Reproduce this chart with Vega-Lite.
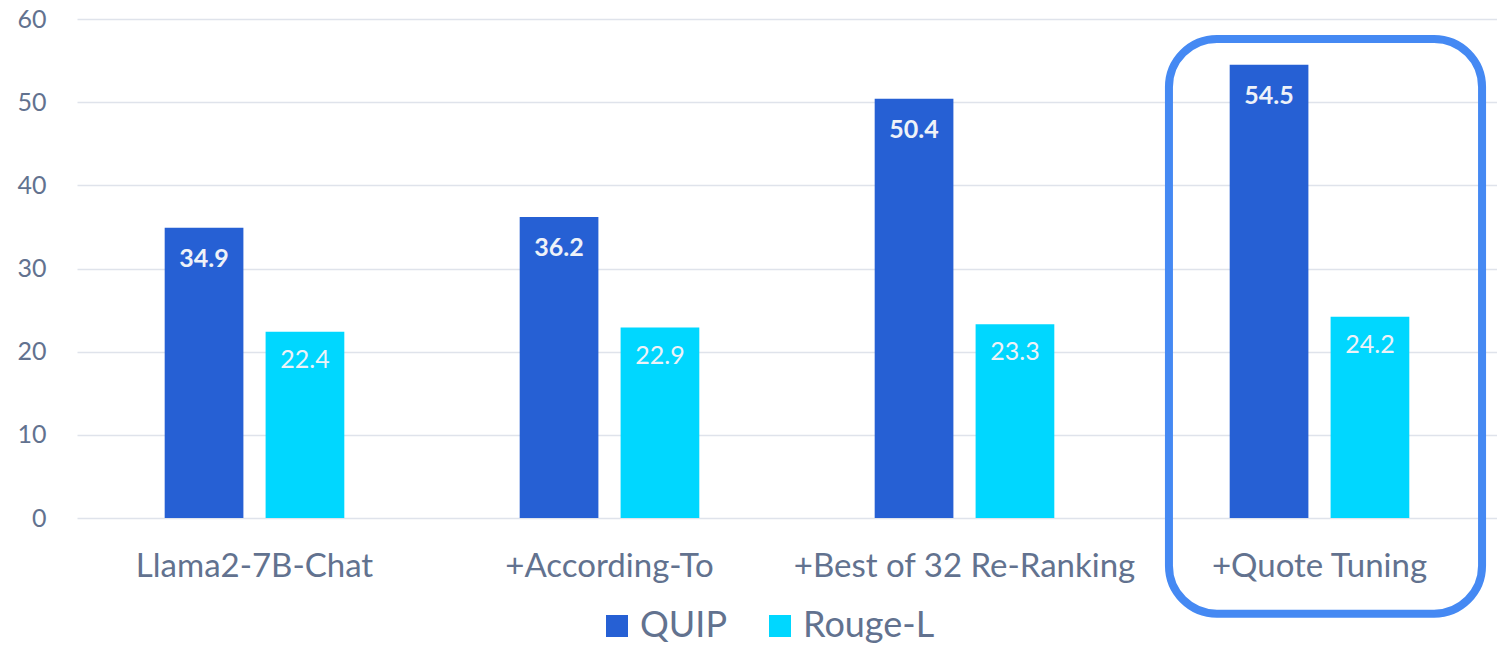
{
  "$schema": "https://vega.github.io/schema/vega-lite/v6.json",
  "width": 1420,
  "height": 499,
  "autosize": {"type": "none"},
  "padding": {"left": 77, "right": 0, "top": 19, "bottom": 129},
  "background": "white",
  "config": {
    "view": {"stroke": null},
    "font": "Lato",
    "axis": {"labelFont": "Lato", "labelColor": "#62728f"}
  },
  "datasets": {
    "scores": [
      {"model": "Llama2-7B-Chat", "metric": "QUIP", "value": 34.9},
      {"model": "Llama2-7B-Chat", "metric": "Rouge-L", "value": 22.4},
      {"model": "+According-To", "metric": "QUIP", "value": 36.2},
      {"model": "+According-To", "metric": "Rouge-L", "value": 22.9},
      {"model": "+Best of 32 Re-Ranking", "metric": "QUIP", "value": 50.4},
      {"model": "+Best of 32 Re-Ranking", "metric": "Rouge-L", "value": 23.3},
      {"model": "+Quote Tuning", "metric": "QUIP", "value": 54.5},
      {"model": "+Quote Tuning", "metric": "Rouge-L", "value": 24.2}
    ],
    "highlight": [
      {"model": "+Quote Tuning", "top": 57.6, "bottom": -11.5}
    ]
  },
  "encoding": {
    "x": {
      "field": "model",
      "type": "nominal",
      "sort": null,
      "scale": {"paddingInner": 0.494, "paddingOuter": 0.247},
      "axis": {
        "title": null,
        "labelAngle": 0,
        "labelFontSize": 33,
        "labelPadding": 32,
        "labelLimit": 0,
        "ticks": false,
        "domain": false,
        "grid": false
      }
    }
  },
  "layer": [
    {
      "data": {"name": "scores"},
      "mark": {"type": "bar"},
      "encoding": {
        "xOffset": {
          "field": "metric",
          "type": "nominal",
          "scale": {"paddingInner": 0.22, "paddingOuter": 0}
        },
        "y": {
          "field": "value",
          "type": "quantitative",
          "scale": {"domain": [0, 60], "nice": false},
          "axis": {
            "title": null,
            "values": [0, 10, 20, 30, 40, 50, 60],
            "labelFontSize": 25,
            "labelPadding": 31,
            "ticks": false,
            "domain": false,
            "gridColor": "#dfe3eb",
            "gridWidth": 1.5
          }
        },
        "color": {
          "field": "metric",
          "type": "nominal",
          "scale": {"domain": ["QUIP", "Rouge-L"], "range": ["#2660d4", "#00d7ff"]},
          "legend": {
            "title": null,
            "orient": "none",
            "direction": "horizontal",
            "legendX": 522,
            "legendY": 589,
            "symbolType": "square",
            "symbolSize": 484,
            "symbolStrokeWidth": 0,
            "labelFontSize": 36,
            "labelFont": "Lato",
            "labelColor": "#62728f",
            "labelOffset": 5,
            "columnPadding": 35
          }
        }
      }
    },
    {
      "data": {"name": "scores"},
      "transform": [{"filter": "datum.metric === 'QUIP'"}],
      "mark": {"type": "text", "baseline": "middle", "dy": 31, "fontSize": 25, "fontWeight": "bold", "color": "#eef2f8"},
      "encoding": {
        "xOffset": {"field": "metric", "type": "nominal"},
        "y": {"field": "value", "type": "quantitative"},
        "text": {"field": "value", "type": "quantitative", "format": ".1f"}
      }
    },
    {
      "data": {"name": "scores"},
      "transform": [{"filter": "datum.metric === 'Rouge-L'"}],
      "mark": {"type": "text", "baseline": "middle", "dy": 28, "fontSize": 25, "color": "#eef2f8"},
      "encoding": {
        "xOffset": {"field": "metric", "type": "nominal"},
        "y": {"field": "value", "type": "quantitative"},
        "text": {"field": "value", "type": "quantitative", "format": ".1f"}
      }
    },
    {
      "data": {"name": "highlight"},
      "mark": {
        "type": "bar",
        "width": {"band": 1.743},
        "xOffset": 6,
        "fillOpacity": 0,
        "stroke": "#4589f3",
        "strokeWidth": 8,
        "cornerRadius": 48
      },
      "encoding": {
        "y": {"field": "top", "type": "quantitative"},
        "y2": {"field": "bottom"}
      }
    }
  ]
}
